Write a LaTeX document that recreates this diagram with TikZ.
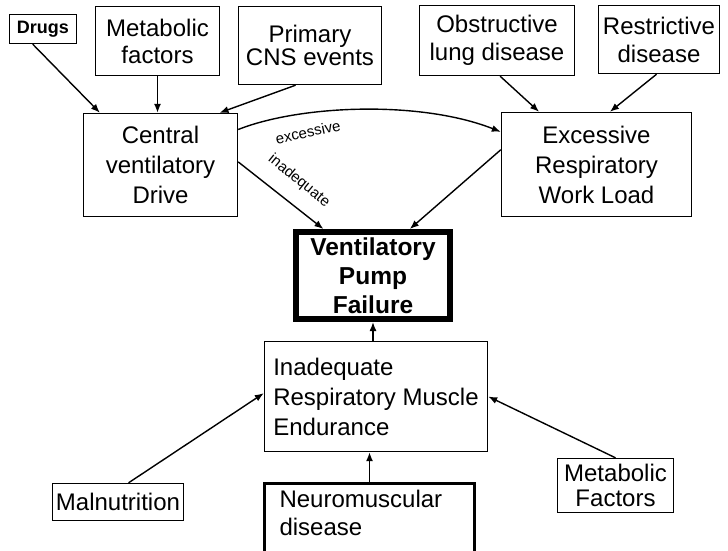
\documentclass[tikz,border=0pt]{standalone}
\usepackage{fontspec}
\setmainfont{Liberation Sans}
\usetikzlibrary{arrows.meta,calc}
\begin{document}
\begin{tikzpicture}[x=1pt,y=-1pt,
  box/.style={draw, line width=1.4pt, inner sep=0pt, align=center, font=\fontsize{24}{27}\selectfont},
  arr/.style={line width=1.4pt, -{Latex[length=9pt,width=7pt]}},
  lbl/.style={font=\fontsize{15}{15}\selectfont, inner sep=0pt}]
\path[use as bounding box, clip] (0,0) rectangle (728,550);
% top row
\node[box, font=\bfseries\fontsize{18}{20}\selectfont, minimum width=67pt, minimum height=29pt] (drugs) at (43,29) {Drugs};
\node[box, minimum width=124pt, minimum height=69pt] (metab) at (157.5,41) {Metabolic\\factors};
\node[box, font=\fontsize{24}{23}\selectfont, minimum width=143pt, minimum height=78pt] (cns) at (310,45.5) {Primary\\CNS events};
\node[box, font=\fontsize{24}{28}\selectfont, minimum width=155pt, minimum height=70pt] (obst) at (497,40.5) {Obstructive\\lung disease};
\node[box, font=\fontsize{24}{28}\selectfont, minimum width=121pt, minimum height=68pt] (restr) at (659,39.5) {Restrictive\\disease};
% middle row
\node[box, font=\fontsize{24}{30}\selectfont, minimum width=154pt, minimum height=103pt] (central) at (160.5,165) {Central\\ventilatory\\Drive};
\node[box, font=\fontsize{24}{30}\selectfont, minimum width=190pt, minimum height=104pt] (excess) at (596.5,164.5) {Excessive\\Respiratory\\Work Load};
\node[box, line width=6pt, font=\bfseries\fontsize{24.5}{29}\selectfont, minimum width=154pt, minimum height=87pt] (pump) at (373,275.5) {Ventilatory\\Pump\\Failure};
% lower part
\node[box, align=left, font=\fontsize{24}{30}\selectfont, minimum width=223pt, minimum height=110pt] (inad) at (376,396.5) {Inadequate\\Respiratory Muscle\\Endurance};
\node[box, minimum width=131pt, minimum height=37pt] (malnut) at (118,502) {Malnutrition};
\node[box, font=\fontsize{24}{25}\selectfont, minimum width=116pt, minimum height=54pt] (metabtwo) at (615.5,485.5) {Metabolic\\Factors};
\node[box, line width=3pt, anchor=north west, inner xsep=15pt, inner ysep=7pt, font=\fontsize{24}{28}\selectfont] (neuro) at (263,482)
  {\begin{minipage}[t][76pt][t]{180pt}Neuromuscular\\disease\end{minipage}};
% connectors
\draw[arr] ($(drugs.south west)!0.35!(drugs.south east)$) -- ($(central.north west)!0.11!(central.north east)$);
\draw[arr] (metab.south) -- (metab.south |- central.north);
\draw[arr] ($(cns.south west)!0.4!(cns.south east)$) -- ($(central.north west)!0.88!(central.north east)$);
\draw[arr] ($(obst.south west)!0.52!(obst.south east)$) -- ($(excess.north west)!0.2!(excess.north east)$);
\draw[arr] ($(restr.south west)!0.48!(restr.south east)$) -- ($(excess.north west)!0.57!(excess.north east)$);
\draw[arr] ($(central.north east)!0.16!(central.south east)$) .. controls (300,105) and (420,100) .. ($(excess.north west)!0.19!(excess.south west)$);
\draw[arr] ($(central.north east)!0.47!(central.south east)$) -- ($(pump.north west)!0.19!(pump.north east)$);
\draw[arr] ($(excess.north west)!0.36!(excess.south west)$) -- ($(pump.north west)!0.73!(pump.north east)$);
\draw[arr] (pump.south |- inad.north) -- (pump.south);
\draw[arr] (neuro.north) -- (neuro.north |- inad.south);
\draw[arr] ($(malnut.north west)!0.58!(malnut.north east)$) -- ($(inad.north west)!0.47!(inad.south west)$);
\draw[arr] (metabtwo.north) -- ($(inad.north east)!0.5!(inad.south east)$);
% labels
\node[lbl, rotate=12] (lex) at (308,132) {excessive};
\node[lbl, rotate=-39] (lin) at (299,181) {inadequate};
\end{tikzpicture}
\end{document}
